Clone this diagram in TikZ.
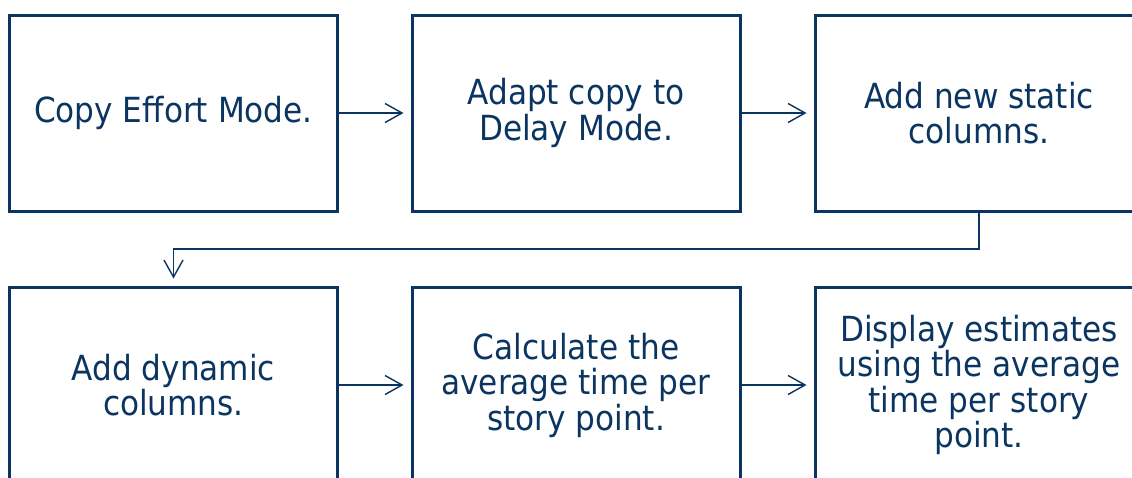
\documentclass[tikz,border=0pt]{standalone}
\usepackage{fontspec}
\setmainfont{DejaVu Sans Condensed}
\usetikzlibrary{arrows.meta}
\definecolor{navy}{HTML}{0B3561}
\tikzset{
  stepbox/.style={draw=navy, line width=3pt, minimum width=328pt, minimum height=196pt,
    align=center, text=navy, font=\fontsize{34.6}{35.5}\selectfont, inner sep=0pt},
  conn/.style={draw=navy, line width=1.4pt, -{Straight Barb[length=17pt,width=19pt,line width=1.4pt]}, shorten >=7pt}
}
\begin{document}
\begin{tikzpicture}[x=1pt,y=-1pt]
\useasboundingbox (0,0) rectangle (1132,477);
\clip (0,0) rectangle (1132,477);
\node[stepbox] (a) at (173.5,113) {Copy Effort Mode.};
\node[stepbox] (b) at (576,113) {Adapt copy to\\Delay Mode.};
\node[stepbox] (c) at (979,113) {Add new static\\columns.};
\node[stepbox] (d) at (173.5,385) {Add dynamic\\columns.};
\node[stepbox] (e) at (576,385) {Calculate the\\average time per\\story point.};
\node[stepbox] (f) at (979,385) {Display estimates\\using the average\\time per story\\point.};
\coordinate (k1) at (979,249);
\coordinate (k2) at (173.5,249);
\draw[conn] (a) -- (b);
\draw[conn] (b) -- (c);
\draw[conn] (d) -- (e);
\draw[conn] (e) -- (f);
\draw[conn] (c.south) -- (k1) -- (k2) -- (d.north);
\end{tikzpicture}
\end{document}
